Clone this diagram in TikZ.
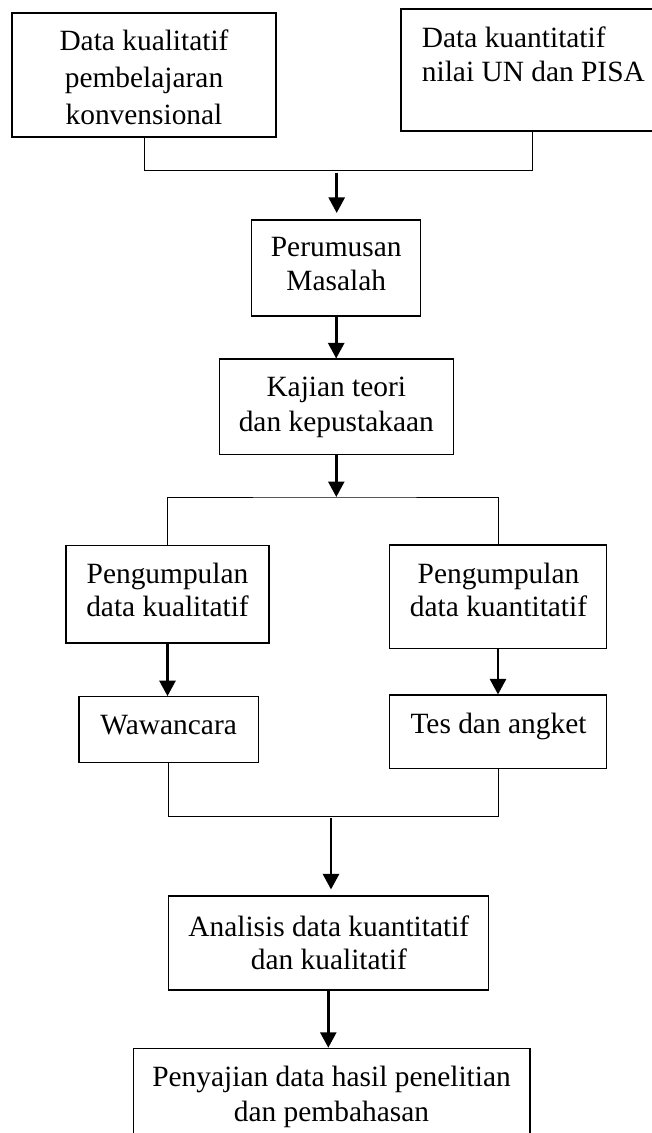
\documentclass[tikz,border=0pt]{standalone}
\usepackage{fontspec}
\setmainfont{Liberation Serif}
\usetikzlibrary{arrows.meta,calc}
\tikzset{
  box/.style={draw=black, line width=1.1pt, inner sep=0pt},
  thickbox/.style={box, line width=2pt},
  txt/.style={inner sep=0pt, align=center, text=black, font=\fontsize{29.4}{#1}\selectfont},
  txt/.default=34,
  line/.style={draw=black, line width=1pt},
  arr/.style={draw=black, line width=2.6pt, -{Triangle[width=16pt,length=15.5pt]}}
}
\begin{document}
\begin{tikzpicture}[x=1pt,y=-1pt]
\useasboundingbox (0,0) rectangle (652,1133);
\fill[white] (0,0) rectangle (652,1133);

% boxes
\node[thickbox, minimum width=264pt, minimum height=123.4pt] (b1) at (144,75) {};
\node[box, minimum width=256pt, minimum height=122pt] (b2) at (529,70) {};
\node[box, minimum width=169pt, minimum height=96pt] (pm) at (336.2,268) {};
\node[box, minimum width=234pt, minimum height=95.3pt] (kj) at (336.3,406.65) {};
\node[box, minimum width=203pt, minimum height=97.7pt] (pl) at (167.5,594.15) {};
\node[box, minimum width=217.4pt, minimum height=103.3pt] (pr) at (498,596.65) {};
\node[box, minimum width=179.3pt, minimum height=66pt] (ww) at (168.65,729.7) {};
\node[box, minimum width=217.4pt, minimum height=73.3pt] (ts) at (498,731.65) {};
\node[box, minimum width=320pt, minimum height=94pt] (an) at (328.3,943) {};
\node[box, minimum width=396.7pt, minimum height=101.7pt] (pj) at (331.65,1099.15) {};

% texts
\node[txt=36.7] (b1t) at (144,77.3) {Data kualitatif\\pembelajaran\\konvensional};
\node[txt=34.3, align=left, anchor=west] (b2t) at (421.7,54.5) {Data kuantitatif\\nilai UN dan PISA};
\node[txt=34] (pmt) at (336.2,264) {Perumusan\\Masalah};
\node[txt=35] (kjt) at (336.3,407.6) {Kajian teori\\dan kepustakaan};
\node[txt=33.4] (plt) at (167.5,590) {Pengumpulan\\data kualitatif};
\node[txt=33.4] (prt) at (498.5,590) {Pengumpulan\\data kuantitatif};
\node[txt] (wwt) at (168.65,725.25) {Wawancara};
\node[txt] (tst) at (498.5,726.5) {Tes dan angket};
\node[txt=33.3] (ant) at (328.8,942.6) {Analisis data kuantitatif\\dan kualitatif};
\node[txt=35] (pjt) at (331.5,1097.35) {Penyajian data hasil penelitian\\dan pembahasan};

% top merge
\coordinate (b2foot) at (532.7,131);
\coordinate (j1) at (336.7,170.7);
\draw[line] (b1.south) |- (j1) -| (b2foot);
\draw[arr, shorten <=2pt, shorten >=6.5pt] (j1) -- (j1 |- pm.north);

\draw[arr] (pm.south) -- (pm.south |- kj.north);

% split
\coordinate (j2) at (336.3,497);
\draw[arr] (kj.south) -- (j2);
\draw[line] (pl.north) |- (j2) -| (pr.north);

\draw[arr] (pl.south) -- (pl.south |- ww.north);
\draw[arr] (pr.south) -- (pr.south |- ts.north);

% bottom merge
\coordinate (j3) at (331,816);
\draw[line] (ww.south) |- (j3) -| (ts.south);
\draw[arr, shorten <=2pt, shorten >=6pt] (j3) -- (j3 |- an.north);

\draw[arr] (an.south) -- (an.south |- pj.north);
\end{tikzpicture}
\end{document}
